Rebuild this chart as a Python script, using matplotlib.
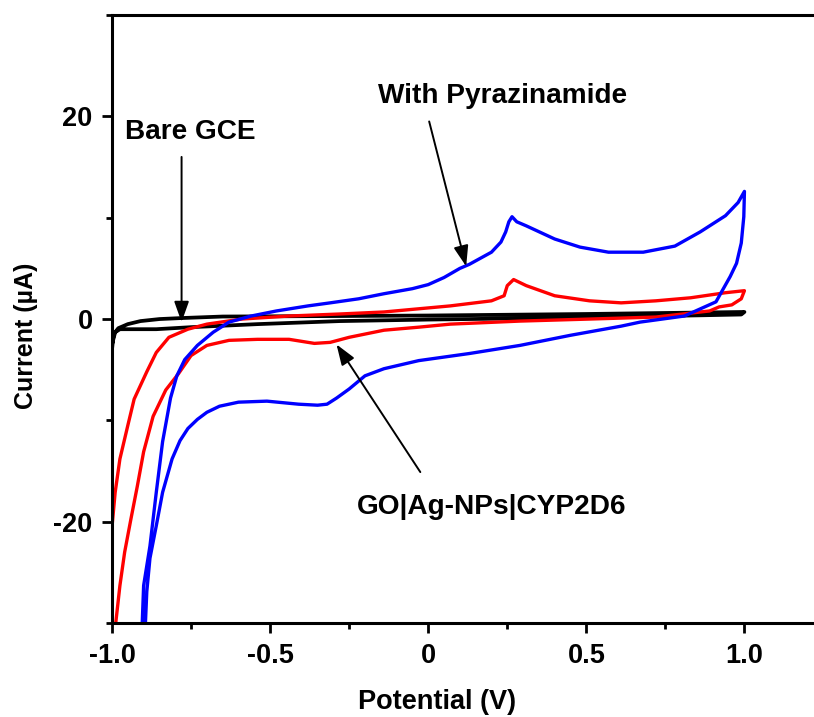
import matplotlib
matplotlib.use("Agg")
import matplotlib.pyplot as plt
import numpy as np

plt.rcParams["font.family"] = ["Liberation Sans", "DejaVu Sans"]
plt.rcParams["font.weight"] = "bold"

# With Pyrazinamide (blue), forward then reverse scan
blue_v = [-0.905, -0.90, -0.88, -0.86, -0.84, -0.815, -0.795, -0.77, -0.73, -0.68, -0.63,
          -0.56, -0.48, -0.38, -0.31, -0.22, -0.14, -0.05, 0.0, 0.05, 0.10, 0.13, 0.20,
          0.23, 0.245, 0.255, 0.265, 0.28, 0.31, 0.40, 0.48, 0.57, 0.68, 0.78, 0.86, 0.94,
          0.98, 1.0,
          0.998, 0.99, 0.975, 0.955, 0.91, 0.81, 0.67, 0.61, 0.45, 0.29, 0.13, -0.03, -0.14,
          -0.20, -0.25, -0.29, -0.32, -0.35, -0.41, -0.51, -0.60, -0.66, -0.70, -0.73,
          -0.76, -0.785, -0.81, -0.84, -0.86, -0.88, -0.89, -0.895]
blue_i = [-30.5, -26.3, -22.4, -17.1, -12.1, -7.8, -5.6, -4.0, -2.6, -1.3, -0.3,
          0.3, 0.8, 1.3, 1.6, 2.0, 2.5, 3.0, 3.4, 4.1, 5.0, 5.4, 6.6,
          7.6, 8.6, 9.6, 10.1, 9.6, 9.2, 7.9, 7.1, 6.6, 6.6, 7.2, 8.6, 10.2,
          11.5, 12.6,
          10.1, 7.5, 5.5, 4.2, 1.7, 0.3, -0.3, -0.7, -1.6, -2.6, -3.4, -4.1, -4.9,
          -5.6, -6.9, -7.8, -8.4, -8.5, -8.4, -8.1, -8.2, -8.6, -9.2, -9.9,
          -10.8, -12.0, -13.8, -17.1, -20.4, -23.6, -26.9, -30.5]

# GO|Ag-NPs|CYP2D6 (red)
red_v = [-1.0, -0.99, -0.975, -0.95, -0.93, -0.89, -0.86, -0.82, -0.76, -0.70, -0.59,
         -0.44, -0.28, -0.14, 0.07, 0.20, 0.24, 0.25, 0.27, 0.31, 0.40, 0.51, 0.61, 0.72,
         0.83, 0.94, 1.0,
         0.99, 0.96, 0.92, 0.89, 0.72, 0.51, 0.29, 0.07, -0.03, -0.14, -0.25, -0.31,
         -0.36, -0.44, -0.54, -0.63, -0.70, -0.75, -0.79, -0.83, -0.87, -0.90, -0.92,
         -0.94, -0.96, -0.975, -0.99]
red_i = [-20.5, -17.1, -13.8, -10.5, -7.9, -5.2, -3.3, -1.8, -1.0, -0.5, 0.0,
         0.3, 0.5, 0.7, 1.3, 1.8, 2.3, 3.3, 3.9, 3.3, 2.3, 1.8, 1.6, 1.8,
         2.1, 2.6, 2.8,
         2.0, 1.4, 1.2, 0.8, 0.2, 0.0, -0.2, -0.5, -0.8, -1.1, -1.8, -2.3,
         -2.4, -2.0, -2.0, -2.1, -2.6, -3.6, -5.4, -7.0, -9.6, -13.1, -16.5,
         -19.7, -23.0, -26.3, -30.5]

# Bare GCE (black)
black_v = [-1.0, -0.995, -0.98, -0.95, -0.91, -0.85, -0.78, -0.65, -0.28, 0.0, 0.5, 1.0,
           0.99, 0.5, 0.0, -0.28, -0.54, -0.75, -0.86, -0.975, -0.99, -1.0]
black_i = [-3.0, -1.5, -0.9, -0.5, -0.2, 0.0, 0.1, 0.25, 0.3, 0.35, 0.5, 0.7,
           0.45, 0.15, -0.05, -0.2, -0.5, -0.8, -1.0, -1.0, -1.3, -2.5]

x_ticks = [-1.0, -0.5, 0.0, 0.5, 1.0]
x_labels = ["-1.0", "-0.5", "0", "0.5", "1.0"]
y_ticks = [-20, 0, 20]
y_labels = ["-20", "0", "20"]

fig = plt.figure(figsize=(8.14, 7.17), dpi=100)
ax = fig.add_axes([0.1376, 0.131, 0.8624, 0.848])

ax.plot(black_v, black_i, color="black", linewidth=2.7, solid_joinstyle="round")
ax.plot(red_v, red_i, color="#ff0000", linewidth=2.4, solid_joinstyle="round")
ax.plot(blue_v, blue_i, color="#0000ff", linewidth=2.4, solid_joinstyle="round")

ax.set_xlim(-1.0, 1.22)
ax.set_ylim(-30, 30)

ax.set_xticks(x_ticks, x_labels)
ax.set_xticks([-0.75, -0.25, 0.25, 0.75], minor=True)
ax.set_yticks(y_ticks, y_labels)
ax.set_yticks([-30, -10, 10, 30], minor=True)

ax.tick_params(which="major", direction="out", length=7, width=2, labelsize=19.5, pad=7)
ax.tick_params(which="minor", direction="out", length=4, width=2)
for lab in ax.get_xticklabels() + ax.get_yticklabels():
    lab.set_fontweight("bold")

for side in ["left", "bottom", "top"]:
    ax.spines[side].set_linewidth(2.2)
ax.spines["right"].set_visible(False)

ax.set_xlabel("Potential (V)", fontsize=19.5, fontweight="bold")
ax.set_ylabel("Current (\u00b5A)", fontsize=18, fontweight="bold")
ax.xaxis.set_label_coords(0.463, -0.108)
ax.yaxis.set_label_coords(-0.106, 0.472)

arrow = dict(arrowstyle="-|>,head_length=0.7,head_width=0.25", color="black", lw=1.4,
             mutation_scale=18, shrinkA=0, shrinkB=0)
ax.annotate("", xy=(-0.78, -0.3), xytext=(-0.78, 16.0), arrowprops=arrow)
ax.annotate("", xy=(0.12, 5.2), xytext=(0.003, 19.5), arrowprops=arrow)
ax.annotate("", xy=(-0.29, -2.5), xytext=(-0.025, -15.1), arrowprops=arrow)

ax.text(-0.96, 18.5, "Bare GCE", fontsize=20.2, fontweight="bold", ha="left", va="center")
ax.text(-0.16, 22.0, "With Pyrazinamide", fontsize=20.2, fontweight="bold", ha="left", va="center")
ax.text(-0.225, -18.5, "GO|Ag-NPs|CYP2D6", fontsize=20.2, fontweight="bold", ha="left", va="center")

fig.savefig("out.png", dpi=100)
